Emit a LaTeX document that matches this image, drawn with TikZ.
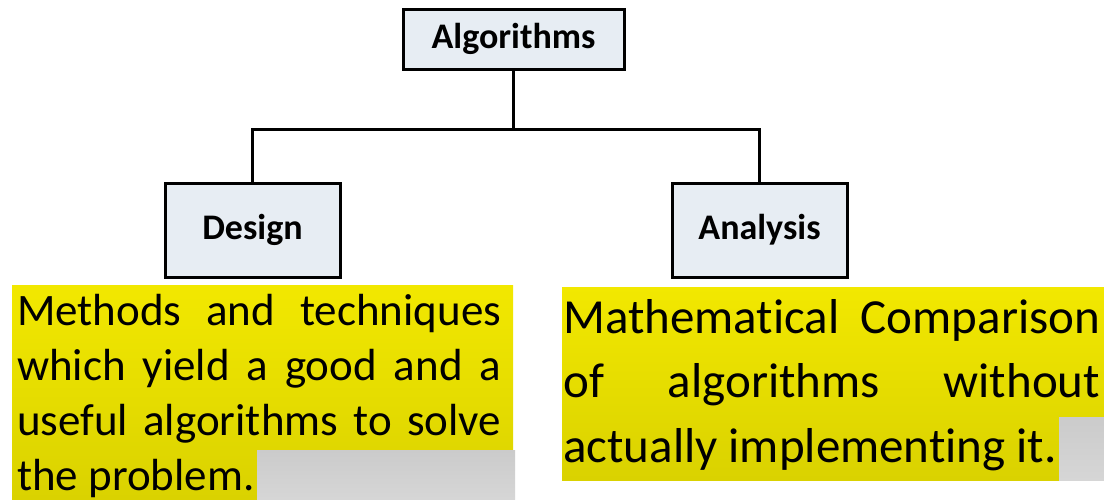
\documentclass[tikz,border=0pt]{standalone}
\usepackage{fontspec}
\setmainfont{Carlito}[Ligatures={NoCommon}]
\definecolor{boxfill}{HTML}{E7EDF3}
\definecolor{yeltop}{HTML}{F2E800}
\definecolor{yelbot}{HTML}{DAD200}
\definecolor{greytop}{HTML}{CBCBCB}
\definecolor{greybot}{HTML}{D6D6D6}
\begin{document}
\begin{tikzpicture}[x=1pt,y=-1pt,
  tbox/.style={draw=black,line width=3pt,fill=boxfill,rectangle,inner sep=0pt,
    font=\fontsize{36}{40}\selectfont\bfseries},
  conn/.style={line width=3pt},
  hilite/.style={top color=yeltop,bottom color=yelbot,draw=none},
  greypatch/.style={top color=greytop,bottom color=greybot,draw=none},
  para/.style={inner sep=0pt,align=justify,anchor=base west}]
\useasboundingbox[fill=white] (0,0) rectangle (1104,499);
% boxes
\node[tbox,minimum width=221pt,minimum height=60pt] (alg) at (513.5,39) {Algorithms};
\node[tbox,minimum width=175pt,minimum height=94pt] (des) at (252.5,230) {Design};
\node[tbox,minimum width=175pt,minimum height=94pt] (ana) at (759.5,230) {Analysis};
\coordinate (j) at (513.5,129);
\draw[conn] (alg.south) -- (j);
\draw[conn] (des.north) |- (j) -| (ana.north);
% highlighted texts
\fill[hilite] (12,285) rectangle (513,499);
\fill[greypatch] (257,450) rectangle (515,499);
\fill[hilite] (562,287) rectangle (1104,480);
\fill[greypatch] (1059,417) rectangle (1104,480);
\node[para,text width=484pt,font=\fontsize{45}{55}\selectfont] (lt) at (17,325)
  {Methods and techniques\linebreak which yield a good and a\linebreak useful algorithms to solve\linebreak the problem.};
\node[para,text width=537pt,font=\fontsize{49}{64.5}\selectfont] (rt) at (563,333)
  {Mathematical Comparison\linebreak of algorithms without\linebreak actually implementing it.};
\end{tikzpicture}
\end{document}
